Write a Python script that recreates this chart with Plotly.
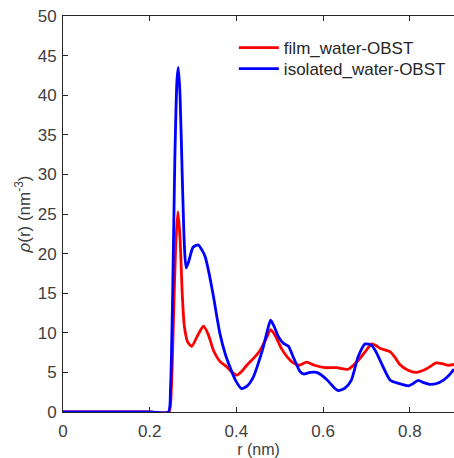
import plotly.graph_objects as go

# Radial density profiles rho(r) of water around OBST
r_film = [0.0, 0.1, 0.2, 0.244, 0.25, 0.255, 0.26, 0.265, 0.27, 0.275, 0.28, 0.288,
          0.297, 0.31, 0.324, 0.335, 0.347, 0.362, 0.378, 0.39, 0.401, 0.412, 0.424,
          0.44, 0.455, 0.468, 0.479, 0.49, 0.504, 0.518, 0.531, 0.545, 0.562, 0.58,
          0.604, 0.631, 0.658, 0.681, 0.697, 0.712, 0.722, 0.731, 0.755, 0.767,
          0.777, 0.795, 0.815, 0.84, 0.861, 0.875, 0.889, 0.902]
rho_film = [0.0, 0.0, 0.0, 0.0, 3.0, 12.0, 21.0, 25.3, 22.0, 15.0, 10.8, 8.8,
            8.3, 9.6, 10.85, 9.8, 7.8, 6.4, 5.7, 5.0, 4.65, 5.1, 5.9,
            6.8, 7.8, 9.2, 10.4, 9.6, 8.0, 6.9, 6.2, 5.9, 6.3, 5.9,
            5.6, 5.6, 5.4, 6.5, 7.6, 8.6, 8.4, 8.05, 7.6, 6.8,
            6.0, 5.3, 5.0, 5.5, 6.2, 6.1, 5.9, 6.0]

r_iso = [0.0, 0.1, 0.2, 0.243, 0.248, 0.253, 0.258, 0.263, 0.266, 0.27, 0.275,
         0.28, 0.284, 0.29, 0.3, 0.312, 0.32, 0.328, 0.337, 0.347, 0.362, 0.375,
         0.385, 0.398, 0.412, 0.425, 0.439, 0.452, 0.462, 0.472, 0.479, 0.487,
         0.497, 0.508, 0.52, 0.533, 0.547, 0.555, 0.57, 0.585, 0.6, 0.612, 0.625,
         0.635, 0.65, 0.665, 0.681, 0.697, 0.712, 0.722, 0.735, 0.755, 0.775,
         0.797, 0.808, 0.819, 0.832, 0.846, 0.862, 0.877, 0.89, 0.902]
rho_iso = [0.0, 0.0, 0.0, 0.0, 3.0, 15.0, 32.0, 42.0, 43.5, 40.0, 30.0,
           21.0, 18.2, 19.0, 20.8, 21.1, 20.5, 19.6, 17.5, 14.6, 9.9, 7.2,
           5.7, 4.0, 2.96, 3.3, 4.4, 6.4, 8.2, 10.4, 11.6, 10.8,
           9.5, 8.7, 8.3, 6.7, 5.1, 4.8, 5.0, 5.0, 4.5, 3.9, 3.1,
           2.7, 3.0, 4.0, 7.0, 8.6, 8.4, 7.6, 6.1, 4.0, 3.6,
           3.3, 3.6, 4.0, 3.7, 3.5, 3.6, 4.0, 4.6, 5.4]

x_ticks = [0, 0.2, 0.4, 0.6, 0.8]
y_ticks = [0, 5, 10, 15, 20, 25, 30, 35, 40, 45, 50]

font_family = "Liberation Sans, Arial, sans-serif"
axis_color = "#262626"
label_color = "#404040"

fig = go.Figure()
fig.add_trace(go.Scatter(
    x=r_film, y=rho_film, mode="lines", name="film_water-OBST",
    line=dict(color="#ff0000", width=2.8, shape="spline", smoothing=0.6),
    legend="legend",
))
fig.add_trace(go.Scatter(
    x=r_iso, y=rho_iso, mode="lines", name="isolated_water-OBST",
    line=dict(color="#0000ff", width=2.8, shape="spline", smoothing=0.6),
    legend="legend2",
))

legend_style = dict(
    xanchor="left", yanchor="middle",
    bgcolor="rgba(255,255,255,0)", borderwidth=0,
    font=dict(size=17, color="#262626"), itemwidth=40,
)

fig.update_layout(
    width=454, height=458,
    margin=dict(l=63, r=0, t=16, b=46),
    paper_bgcolor="white", plot_bgcolor="white",
    font=dict(family=font_family, size=17, color=label_color),
    showlegend=True,
    legend=dict(x=0.437, y=0.919, **legend_style),
    legend2=dict(x=0.437, y=0.866, **legend_style),
    xaxis=dict(
        range=[0, 0.902], tickvals=x_ticks,
        ticktext=["0", "0.2", "0.4", "0.6", "0.8"],
        ticks="inside", ticklen=5, tickcolor=axis_color, tickwidth=1,
        ticklabelstandoff=4,
        showline=True, linecolor=axis_color, linewidth=1, mirror="ticks",
        showgrid=False, zeroline=False,
        title=dict(text="r (nm)", font=dict(size=16, color=label_color), standoff=4),
    ),
    yaxis=dict(
        range=[0, 50], tickvals=y_ticks,
        ticks="inside", ticklen=5, tickcolor=axis_color, tickwidth=1,
        ticklabelstandoff=2,
        showline=True, linecolor=axis_color, linewidth=1,
        showgrid=False, zeroline=False,
        title=dict(text="<i>ρ</i>(r) (nm<sup>-3</sup>)",
                   font=dict(size=17, color=label_color), standoff=2),
    ),
)

fig.write_html("out.html")
